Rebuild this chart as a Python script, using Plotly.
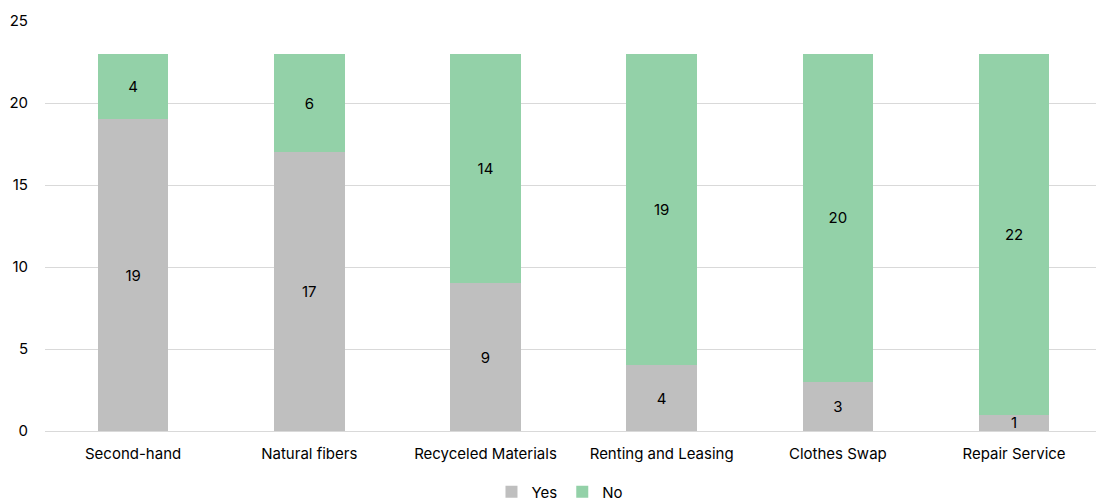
import plotly.graph_objects as go

categories = ["Second-hand", "Natural fibers", "Recyceled Materials", "Renting and Leasing", "Clothes Swap", "Repair Service"]
yes_values = [19, 17, 9, 4, 3, 1]
no_values = [4, 6, 14, 19, 20, 22]
y_ticks = [0, 5, 10, 15, 20, 25]

FONT = "Inter, Open Sans, sans-serif"

fig = go.Figure()
fig.add_trace(go.Bar(
    name="Yes", x=categories, y=yes_values, marker_color="#BFBFBF",
    marker_line_width=0, width=0.4,
    text=yes_values, textposition="inside", insidetextanchor="middle",
    textangle=0, constraintext="none", cliponaxis=False,
    textfont=dict(color="#000000", size=15, family=FONT),
))
fig.add_trace(go.Bar(
    name="No", x=categories, y=no_values, marker_color="#93D1A8",
    marker_line_width=0, width=0.4,
    text=no_values, textposition="inside", insidetextanchor="middle",
    textangle=0, constraintext="none", cliponaxis=False,
    textfont=dict(color="#000000", size=15, family=FONT),
))

fig.update_layout(
    barmode="stack",
    width=1096, height=504,
    margin=dict(l=45, r=0, t=21, b=73, autoexpand=False),
    plot_bgcolor="white", paper_bgcolor="white",
    font=dict(family=FONT, size=15, color="#000000"),
    uniformtext=dict(minsize=10, mode="show"),
    legend=dict(orientation="h", x=0.49, xanchor="center", y=-0.149, yanchor="middle",
                font=dict(size=15), itemwidth=30, traceorder="normal"),
    showlegend=True,
)
fig.update_xaxes(range=[-0.5, 5.465], showgrid=False, showline=False, ticks="",
                 tickfont=dict(size=15, color="#000000"), ticklabelstandoff=12, automargin=False)
fig.update_yaxes(range=[0, 25], tickvals=y_ticks, showgrid=True, gridcolor="#D9D9D9",
                 gridwidth=1, zeroline=True, zerolinecolor="#D9D9D9", zerolinewidth=1,
                 tickfont=dict(size=15, color="#000000"), ticklabelstandoff=16, automargin=False)

fig.write_html("out.html")
